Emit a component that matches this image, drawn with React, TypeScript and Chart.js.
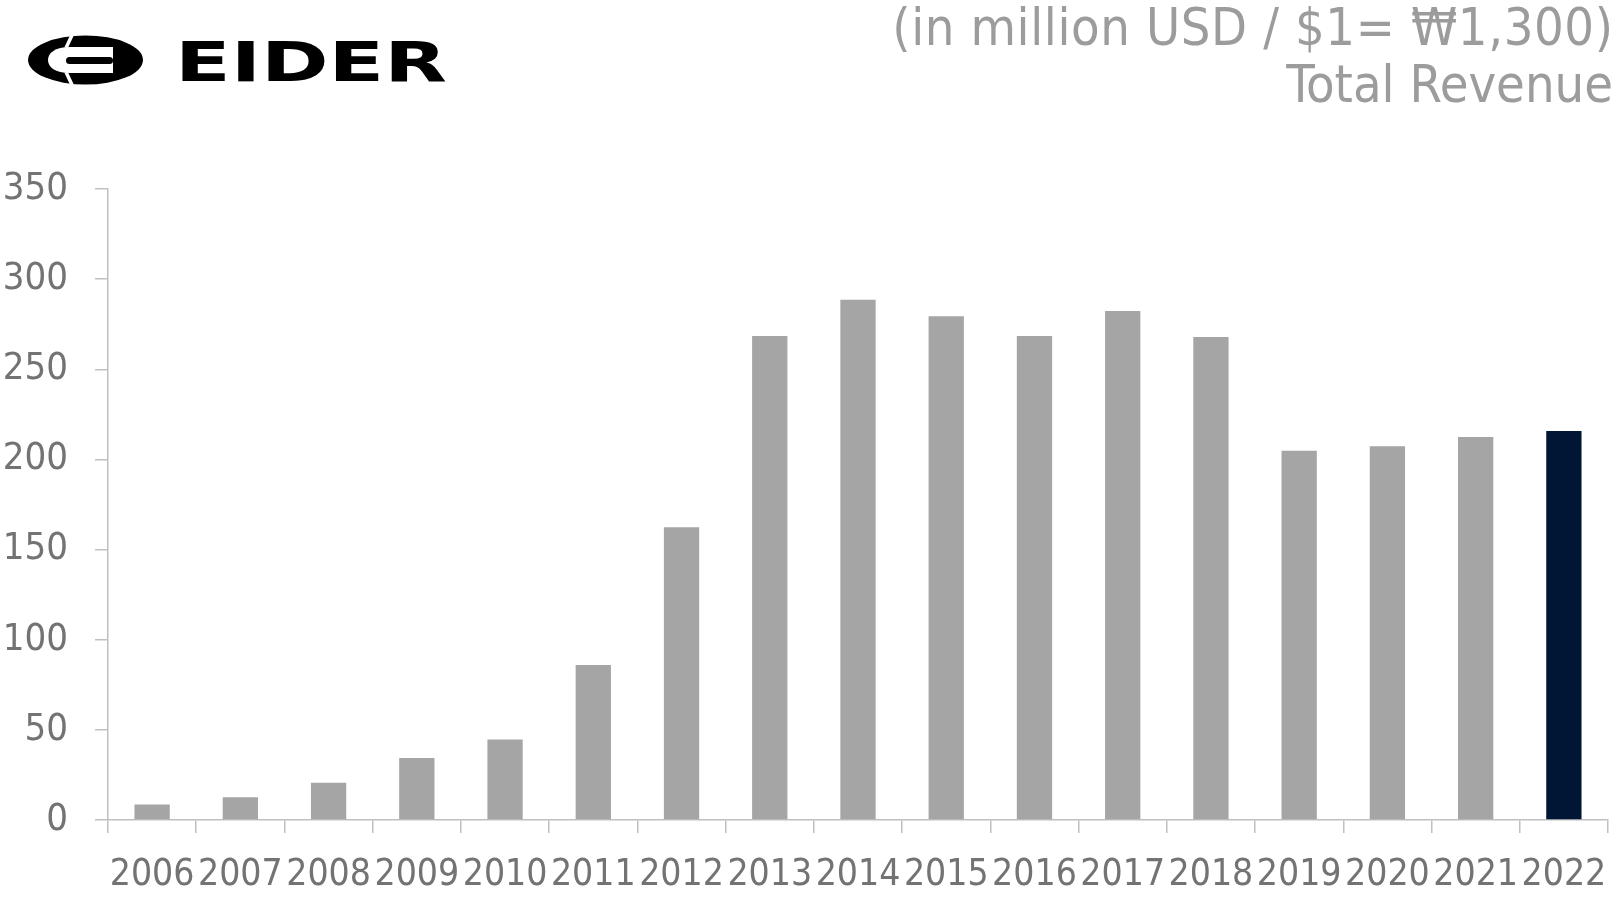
import React, { useEffect, useRef } from "react";
import { Chart, registerables } from "chart.js";

Chart.register(...registerables);

const years = ["2006","2007","2008","2009","2010","2011","2012","2013","2014","2015","2016","2017","2018","2019","2020","2021","2022"];
const revenue = [8.6, 12.6, 20.7, 34.4, 44.7, 86, 162.4, 268.5, 288.6, 279.4, 268.5, 282.3, 267.9, 204.8, 207.3, 212.4, 215.7];
const barColors = ["#a5a5a5","#a5a5a5","#a5a5a5","#a5a5a5","#a5a5a5","#a5a5a5","#a5a5a5","#a5a5a5","#a5a5a5","#a5a5a5","#a5a5a5","#a5a5a5","#a5a5a5","#a5a5a5","#a5a5a5","#a5a5a5","#011634"];
const yMin = 0;
const yMax = 350;
const yStep = 50;
const titleLine1 = "(in million USD / $1= ₩1,300)";
const titleLine2 = "Total Revenue";
const brand = "EIDER";

const FONT = "'DejaVu Sans Condensed', 'DejaVu Sans', sans-serif";

export default function App() {
  const ref = useRef<HTMLCanvasElement | null>(null);
  useEffect(() => {
    document.body.style.margin = "0";
    const ctx = ref.current!;
    const chart = new Chart(ctx, {
      type: "bar",
      data: {
        labels: years,
        datasets: [
          {
            data: revenue,
            backgroundColor: barColors,
            borderWidth: 0,
            categoryPercentage: 1,
            barPercentage: 0.4,
          },
        ],
      },
      options: {
        animation: false,
        responsive: false,
        maintainAspectRatio: false,
        layout: { padding: { left: 0, top: 189, right: 15, bottom: 0 } },
        plugins: { legend: { display: false }, tooltip: { enabled: false }, title: { display: false } },
        scales: {
          x: {
            afterFit: (s: any) => { s.height = 79; s.paddingLeft = 0; s.paddingRight = 0; },
            grid: { display: true, drawOnChartArea: false, drawTicks: true, tickLength: 13, color: "#c0c0c0", lineWidth: 1.5 },
            border: { display: true, color: "#c0c0c0", width: 1.5 },
            ticks: { color: "#737373", font: { family: FONT, size: 37 }, padding: 20, maxRotation: 0, autoSkip: false },
          },
          y: {
            min: yMin,
            max: yMax,
            afterFit: (s: any) => { s.width = 108; },
            grid: { display: true, drawOnChartArea: false, drawTicks: true, tickLength: 13, color: "#c0c0c0", lineWidth: 1.5 },
            border: { display: true, color: "#c0c0c0", width: 1.5 },
            ticks: { stepSize: yStep, color: "#737373", font: { family: FONT, size: 38 }, padding: 27 },
          },
        },
      },
    });
    return () => chart.destroy();
  }, []);

  return (
    <div style={{ position: "absolute", left: 0, top: 0, width: 1623, height: 899, background: "#fff", overflow: "hidden" }}>
      <canvas ref={ref} width={1623} height={899} style={{ position: "absolute", left: 0, top: 0 }} />
      <svg width={480} height={120} style={{ position: "absolute", left: 0, top: 0 }}>
        <ellipse cx={85.5} cy={60} rx={57.5} ry={24.5} fill="#000" />
        <path d="M 113 47 L 70 47 C 55 47 48 53 48 60 C 48 67 55 73 70 73 L 113 73 Z" fill="#fff" />
        <rect x={66} y={57} width={47} height={7} rx={3.5} fill="#000" />
        <line x1={73} y1={33} x2={66} y2={48} stroke="#fff" strokeWidth={3.5} />
        <line x1={66} y1={72} x2={73} y2={87} stroke="#fff" strokeWidth={3.5} />
        <text x={175} y={81} fontFamily="'DejaVu Sans', sans-serif" fontWeight={900} fontSize={56} textLength={272} lengthAdjust="spacingAndGlyphs" fill="#000">{brand}</text>
      </svg>
      <div style={{ position: "absolute", right: 10, top: -1, textAlign: "right", color: "#9c9c9c", fontFamily: FONT, fontSize: 52, lineHeight: "57px" }}>
        <div style={{ letterSpacing: "0.6px", marginRight: "-0.6px" }}>{titleLine1}</div>
        <div>{titleLine2}</div>
      </div>
    </div>
  );
}
